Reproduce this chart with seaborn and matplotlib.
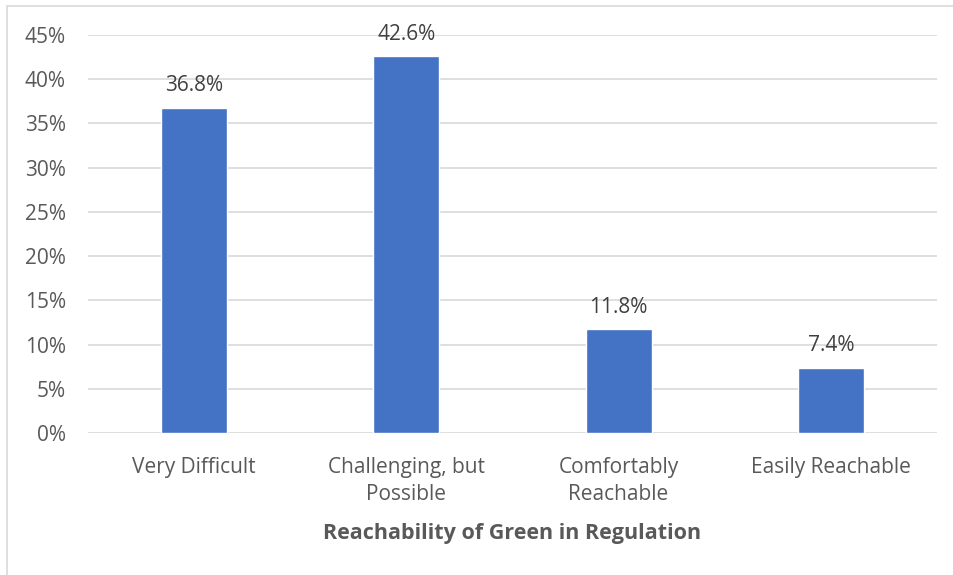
import matplotlib
matplotlib.use("Agg")
import matplotlib.pyplot as plt
import seaborn as sns
import pandas as pd
from matplotlib.patches import Rectangle
from matplotlib.ticker import PercentFormatter

categories = ["Very Difficult", "Challenging, but\nPossible", "Comfortably\nReachable", "Easily Reachable"]
shares = [36.8, 42.6, 11.8, 7.4]
y_ticks = [0, 5, 10, 15, 20, 25, 30, 35, 40, 45]

sns.set_theme(style="white")
plt.rcParams["font.family"] = ["Open Sans", "DejaVu Sans"]

df = pd.DataFrame({"category": categories, "share": shares})

fig = plt.figure(figsize=(9.54, 5.75), dpi=100)
ax = fig.add_axes([88 / 954, 1 - 433 / 575, (937 - 88) / 954, (433 - 35) / 575])

# chart frame
fig.patches.append(Rectangle((7 / 954, -0.1), 1.2, 1 - 6 / 575 + 0.1, transform=fig.transFigure,
                             fill=False, edgecolor="#D9D9D9", linewidth=1.2, zorder=0))

sns.barplot(data=df, x="category", y="share", color="#4472C4", width=0.31,
            saturation=1, ax=ax, zorder=3)

ax.set_ylim(0, 45)
ax.set_yticks(y_ticks)
ax.yaxis.set_major_formatter(PercentFormatter(decimals=0))
ax.grid(axis="y", color="#D9D9D9", linewidth=1.2, zorder=0)
for s in ax.spines.values():
    s.set_visible(False)

ax.tick_params(axis="y", labelsize=15, colors="#595959", length=0, pad=16)
ax.tick_params(axis="x", labelsize=15, colors="#595959", length=0, pad=17)
for lbl in ax.get_xticklabels():
    lbl.set_verticalalignment("top")
    lbl.set_linespacing(1.42)

for i, v in enumerate(shares):
    ax.annotate(f"{v:.1f}%", (i, v), xytext=(0, 8), textcoords="offset points",
                ha="center", va="bottom", fontsize=15, color="#404040")

ax.set_ylabel("")
ax.set_xlabel("Reachability of Green in Regulation", fontsize=15.5, fontweight="bold",
              color="#595959", labelpad=13)

fig.savefig("out.png", dpi=100)
